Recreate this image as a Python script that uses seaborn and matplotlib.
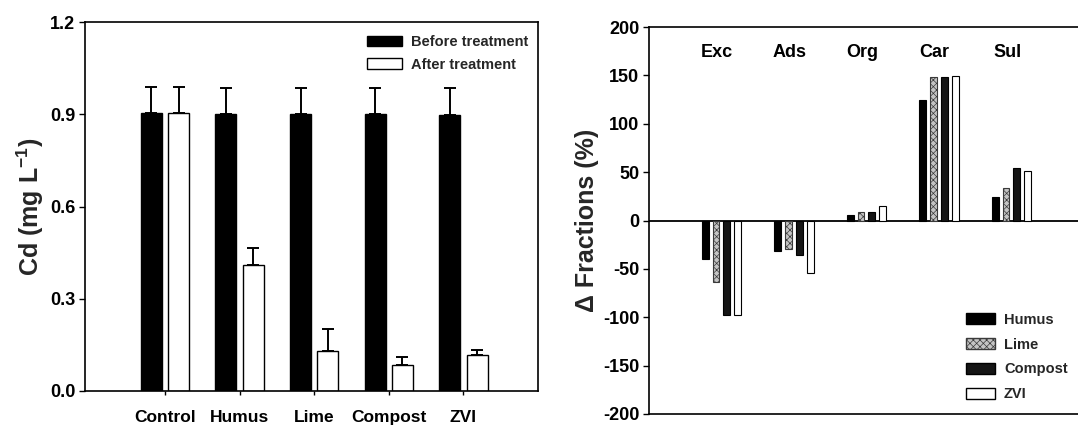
import numpy as np
import pandas as pd
import matplotlib
matplotlib.use("Agg")
import matplotlib.pyplot as plt
import seaborn as sns
from matplotlib.patches import Patch

# ---------------- data (left panel) ----------------
treatments = ["Control", "Humus", "Lime", "Compost", "ZVI"]
phase_labels = ["Before treatment", "After treatment"]
before_vals = [0.904, 0.902, 0.902, 0.900, 0.899]
before_err = [0.085, 0.085, 0.085, 0.085, 0.085]
after_vals = [0.904, 0.411, 0.129, 0.086, 0.116]
after_err = [0.085, 0.054, 0.074, 0.025, 0.018]
left_yticks = [0.0, 0.3, 0.6, 0.9, 1.2]

# ---------------- data (right panel) ----------------
fractions = ["Exc", "Ads", "Org", "Car", "Sul"]
amendments = ["Humus", "Lime", "Compost", "ZVI"]
humus_delta = [-39.5, -31.4, 5.7, 124.5, 24.6]
lime_delta = [-64.0, -29.7, 9.1, 148.0, 33.4]
compost_delta = [-97.8, -36.0, 8.4, 148.0, 54.6]
zvi_delta = [-97.8, -54.0, 14.5, 149.7, 51.0]
right_yticks = [-200, -150, -100, -50, 0, 50, 100, 150, 200]

sns.set_theme(style="ticks")
plt.rcParams["font.family"] = ["Liberation Sans", "DejaVu Sans"]
plt.rcParams["font.weight"] = "bold"
plt.rcParams["axes.labelweight"] = "bold"
plt.rcParams["mathtext.default"] = "regular"
plt.rcParams["hatch.linewidth"] = 0.5

fig = plt.figure(figsize=(10.78, 4.29), dpi=100)
ax1 = fig.add_axes([0.0789, 0.0886, 0.4202, 0.860])
ax2 = fig.add_axes([0.602, 0.035, 0.4035, 0.902])

# ---------------- left panel ----------------
df1 = pd.DataFrame({
    "Treatment": treatments * 2,
    "Phase": [phase_labels[0]] * len(treatments) + [phase_labels[1]] * len(treatments),
    "Cd": before_vals + after_vals,
})
sns.barplot(data=df1, x="Treatment", y="Cd", hue="Phase", order=treatments,
            hue_order=phase_labels, palette=["black", "white"], saturation=1,
            width=0.73, gap=0.23, edgecolor="black", linewidth=1.0,
            errorbar=None, legend=False, ax=ax1)
for cont, vals, errs in zip(ax1.containers, [before_vals, after_vals], [before_err, after_err]):
    xs = [p.get_x() + p.get_width() / 2 for p in cont.patches]
    ax1.errorbar(xs, vals, yerr=[np.zeros(len(errs)), errs], fmt="none",
                 ecolor="black", elinewidth=1.4, capsize=4.5, capthick=1.4, zorder=1)

ax1.set_xlim(-1.07, 5.0)
ax1.set_ylim(0, 1.2)
ax1.set_yticks(left_yticks)
ax1.set_yticklabels([f"{v:.1f}" for v in left_yticks], fontsize=13, fontweight="bold")
ax1.set_xticks(range(len(treatments)))
ax1.set_xticklabels(treatments, fontsize=12.5, fontweight="bold")
ax1.set_xlabel("")
ax1.set_ylabel("Cd (mg L$^{-1}$)", fontsize=18, fontweight="bold", labelpad=3)
ax1.tick_params(axis="x", direction="out", length=3, width=1, pad=11, colors="black")
ax1.tick_params(axis="y", direction="out", length=4, width=1, pad=3, colors="black")
for s in ax1.spines.values():
    s.set_visible(True)
    s.set_linewidth(1.2)
    s.set_color("black")

h1 = [Patch(facecolor="black", edgecolor="black"),
      Patch(facecolor="white", edgecolor="black")]
ax1.legend(h1, phase_labels, loc="upper left", bbox_to_anchor=(0.622, 0.965),
           frameon=False, borderpad=0, borderaxespad=0, handlelength=2.4,
           handleheight=0.75, handletextpad=0.65, labelspacing=0.6,
           prop={"weight": "bold", "size": 10.5})

# ---------------- right panel ----------------
df2 = pd.DataFrame({
    "Fraction": fractions * len(amendments),
    "Amendment": sum([[a] * len(fractions) for a in amendments], []),
    "Delta": humus_delta + lime_delta + compost_delta + zvi_delta,
})
pal = ["black", "#c4c4c4", "#151515", "white"]
sns.barplot(data=df2, x="Fraction", y="Delta", hue="Amendment", order=fractions,
            hue_order=amendments, palette=pal, saturation=1, width=0.6, gap=0.36,
            edgecolor="black", linewidth=0.8, errorbar=None, legend=False, ax=ax2)
for p in ax2.containers[1].patches:
    p.set_hatch("xxxxx")
    p.set_edgecolor("#3a3a3a")

ax2.axhline(0, color="black", lw=1.3, zorder=0)
ax2.set_xlim(-1, 5)
ax2.set_ylim(-200, 200)
ax2.set_yticks(right_yticks)
ax2.set_yticklabels([str(v) for v in right_yticks], fontsize=13, fontweight="bold")
ax2.set_xticks([])
ax2.set_xlabel("")
ax2.set_ylabel("Δ Fractions (%)", fontsize=18, fontweight="bold", labelpad=3)
ax2.tick_params(axis="y", direction="out", length=4, width=1, pad=3, colors="black")
for i, name in enumerate(fractions):
    ax2.text(i - 0.06, 174, name, ha="center", va="center", fontsize=13,
             fontweight="bold", color="black")
for s in ax2.spines.values():
    s.set_visible(True)
    s.set_linewidth(1.2)
    s.set_color("black")

h2 = [Patch(facecolor=pal[0], edgecolor="black"),
      Patch(facecolor=pal[1], edgecolor="#3a3a3a", hatch="xxxxx"),
      Patch(facecolor=pal[2], edgecolor="black"),
      Patch(facecolor=pal[3], edgecolor="black")]
ax2.legend(h2, amendments, loc="upper left", bbox_to_anchor=(0.729, 0.262),
           frameon=False, borderpad=0, borderaxespad=0, handlelength=2.0,
           handleheight=0.8, handletextpad=0.6, labelspacing=0.75,
           prop={"weight": "bold", "size": 10.5})

fig.savefig("out.png", dpi=100)
